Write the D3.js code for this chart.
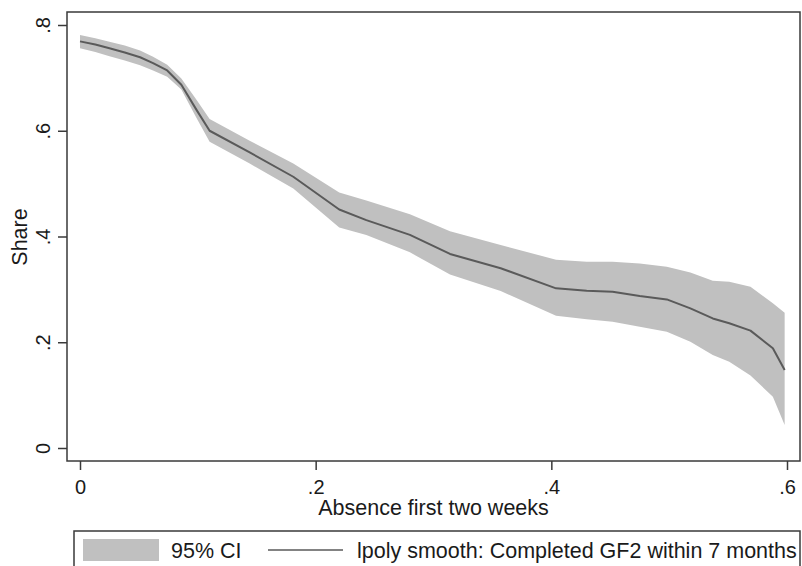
<!DOCTYPE html>
<html>
<head>
<meta charset="utf-8">
<script src="https://cdn.jsdelivr.net/npm/d3@7"></script>
<style>
  html, body { margin: 0; padding: 0; background: #fff; }
  svg { display: block; font-family: "Liberation Sans", Arial, sans-serif; }
</style>
</head>
<body>
<svg id="chart" width="802" height="566"></svg>
<script>
// Local polynomial smooth of completion share against early absence, with 95% CI
const absence = [0, 0.013, 0.025, 0.038, 0.051, 0.062, 0.074, 0.086, 0.099, 0.110,
                 0.144, 0.181, 0.220, 0.243, 0.280, 0.314, 0.357, 0.404, 0.430, 0.452,
                 0.475, 0.498, 0.518, 0.537, 0.551, 0.569, 0.588, 0.598];
const share   = [0.769, 0.763, 0.756, 0.748, 0.739, 0.728, 0.714, 0.687, 0.639, 0.600,
                 0.559, 0.513, 0.451, 0.431, 0.403, 0.367, 0.340, 0.302, 0.2975, 0.2956,
                 0.2875, 0.281, 0.264, 0.245, 0.236, 0.222, 0.1885, 0.1475];
const ciLower = [0.756, 0.749, 0.741, 0.733, 0.724, 0.714, 0.702, 0.678, 0.6235, 0.579,
                 0.538, 0.491, 0.417, 0.403, 0.370, 0.328, 0.297, 0.250, 0.2434, 0.239,
                 0.2294, 0.220, 0.201, 0.176, 0.163, 0.137, 0.097, 0.0435];
const ciUpper = [0.781, 0.775, 0.7685, 0.761, 0.752, 0.740, 0.725, 0.699, 0.658, 0.622,
                 0.581, 0.538, 0.483, 0.468, 0.442, 0.410, 0.384, 0.356, 0.3524, 0.3524,
                 0.349, 0.343, 0.332, 0.3164, 0.3145, 0.305, 0.2737, 0.256];

const xTicks = [0, 0.2, 0.4, 0.6];
const yTicks = [0, 0.2, 0.4, 0.6, 0.8];
const tickLabel = v => v === 0 ? "0" : d3.format(".1f")(v).replace(/^0/, "");

const xTitle = "Absence first two weeks";
const yTitle = "Share";
const legendItems = ["95% CI", "lpoly smooth: Completed GF2 within 7 months"];

const rows = absence.map((a, i) => ({ a, m: share[i], lo: ciLower[i], hi: ciUpper[i] }));

const svg = d3.select("#chart");
const frame = { left: 67, right: 800, top: 12, bottom: 461 };

const x = d3.scaleLinear().domain([0, 0.6]).range([80, 787]);
const y = d3.scaleLinear().domain([0, 0.8]).range([448, 25]);

const axisColor = "#3a3a3a";
const textColor = "#1a1a1a";
const fontStack = '"Liberation Sans", Arial, sans-serif';

// confidence band
svg.append("path")
  .datum(rows)
  .attr("fill", "#c0c0c0")
  .attr("d", d3.area().x(d => x(d.a)).y0(d => y(d.lo)).y1(d => y(d.hi)));

// smoothed line
svg.append("path")
  .datum(rows)
  .attr("fill", "none")
  .attr("stroke", "#5a5a5a")
  .attr("stroke-width", 2)
  .attr("stroke-linejoin", "round")
  .attr("d", d3.line().x(d => x(d.a)).y(d => y(d.m)));

// plot region outline
svg.append("rect")
  .attr("x", frame.left).attr("y", frame.top)
  .attr("width", frame.right - frame.left).attr("height", frame.bottom - frame.top)
  .attr("fill", "none").attr("stroke", axisColor).attr("stroke-width", 1.5);

// y axis
const yAxis = d3.axisLeft(y).tickValues(yTicks).tickSize(9).tickPadding(0).tickFormat(tickLabel);
const gy = svg.append("g").attr("transform", `translate(${frame.left},0)`).call(yAxis);
gy.select(".domain").remove();
gy.selectAll(".tick line").attr("stroke", axisColor).attr("stroke-width", 1.5);
gy.selectAll(".tick text")
  .attr("x", 0).attr("y", 0).attr("dy", null)
  .attr("transform", "translate(-17,0) rotate(-90)")
  .attr("text-anchor", "middle")
  .attr("fill", textColor)
  .style("font-size", "20px")
  .style("font-family", fontStack);

// x axis
const xAxis = d3.axisBottom(x).tickValues(xTicks).tickSize(9).tickPadding(0).tickFormat(tickLabel);
const gx = svg.append("g").attr("transform", `translate(0,${frame.bottom})`).call(xAxis);
gx.select(".domain").remove();
gx.selectAll(".tick line").attr("stroke", axisColor).attr("stroke-width", 1.5);
gx.selectAll(".tick text")
  .attr("y", 33).attr("dy", null)
  .attr("fill", textColor)
  .style("font-size", "20px")
  .style("font-family", fontStack);

// axis titles
svg.append("text")
  .attr("x", (frame.left + frame.right) / 2).attr("y", 515)
  .attr("text-anchor", "middle").attr("fill", textColor)
  .style("font-size", "21.5px")
  .text(xTitle);

svg.append("text")
  .attr("transform", `translate(27,${(y(0) + y(0.8)) / 2 + 0.5}) rotate(-90)`)
  .attr("text-anchor", "middle").attr("fill", textColor)
  .style("font-size", "21.5px")
  .text(yTitle);

// legend
const lg = svg.append("g");
lg.append("rect")
  .attr("x", 74).attr("y", 531).attr("width", 726).attr("height", 60)
  .attr("fill", "#fff").attr("stroke", axisColor).attr("stroke-width", 1.5);
lg.append("rect")
  .attr("x", 83).attr("y", 539).attr("width", 76).attr("height", 22)
  .attr("fill", "#c0c0c0");
lg.append("text")
  .attr("x", 171).attr("y", 558).attr("fill", textColor)
  .style("font-size", "21.5px")
  .text(legendItems[0]);
lg.append("line")
  .attr("x1", 268).attr("x2", 343).attr("y1", 550).attr("y2", 550)
  .attr("stroke", "#5a5a5a").attr("stroke-width", 1.5);
lg.append("text")
  .attr("x", 357).attr("y", 558).attr("fill", textColor)
  .style("font-size", "21.5px")
  .text(legendItems[1]);
</script>
</body>
</html>
